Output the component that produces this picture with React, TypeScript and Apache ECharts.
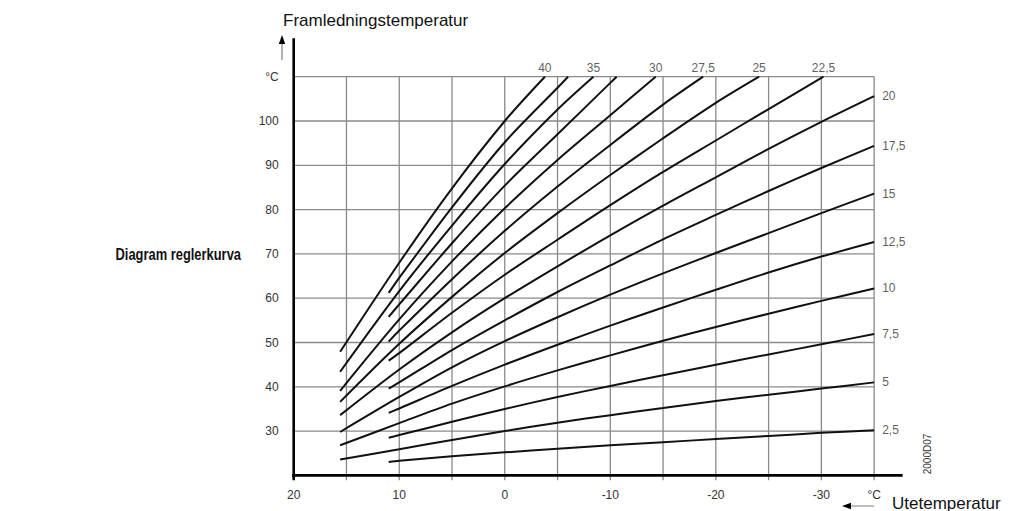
import React, { useEffect, useRef } from "react";
import * as echarts from "echarts";

const FONT = "'Liberation Sans', Arial, Helvetica, sans-serif";

// Outdoor temperature grid (x) and flow temperature grid (y)
const verticalGrid = [15, 10, 5, 0, -5, -10, -15, -20, -25, -30, -35];
const horizontalGrid = [30, 40, 50, 60, 70, 80, 90, 100, 110];
const xTickLabels = [20, 10, 0, -10, -20, -30];
const yTickLabels = [30, 40, 50, 60, 70, 80, 90, 100];

// Heating curves: [outdoor temp, flow temp]
const curve40 = [[15.6, 47.9], [10, 68.0], [5, 84.8], [0, 100], [-3.8, 110]];
const curve37_5 = [[11, 61.2], [10, 64.6], [5, 80.5], [0, 95.2], [-5, 107.5], [-6.0, 110]];
const curve35 = [[15.6, 43.4], [10, 61.6], [5, 76.4], [0, 90.3], [-5, 102.6], [-8.4, 110]];
const curve32_5 = [[11, 55.8], [10, 58.6], [5, 72.4], [0, 85.4], [-5, 97.0], [-10, 108.6], [-10.6, 110]];
const curve30 = [[15.6, 39.1], [10, 55.2], [5, 68.3], [0, 80.3], [-5, 91.2], [-10, 101.3], [-14.3, 110]];
const curve27_5 = [[11, 50.2], [10, 52.7], [5, 64.3], [0, 75.2], [-5, 85.2], [-10, 94.6], [-15, 103.7], [-18.8, 110]];
const curve25 = [[15.6, 36.6], [10, 49.7], [5, 60.3], [0, 70.2], [-5, 79.2], [-10, 87.8], [-15, 96.1], [-20, 104.1], [-24.1, 110]];
const curve22_5 = [[11, 45.9], [10, 47.6], [5, 56.7], [0, 65.3], [-5, 73.2], [-10, 81.0], [-15, 88.5], [-20, 95.6], [-25, 102.7], [-30.2, 110]];
const curve20 = [[15.6, 33.6], [10, 43.9], [5, 52.3], [0, 60.0], [-5, 67.2], [-10, 74.2], [-15, 80.9], [-20, 87.3], [-25, 93.7], [-30, 99.8], [-35, 105.6]];
const curve17_5 = [[11, 39.6], [10, 41.0], [5, 48.3], [0, 55.0], [-5, 61.4], [-10, 67.4], [-15, 73.3], [-20, 78.8], [-25, 84.2], [-30, 89.4], [-35, 94.4]];
const curve15 = [[15.6, 29.8], [10, 37.7], [5, 44.4], [0, 50.3], [-5, 55.7], [-10, 60.8], [-15, 65.6], [-20, 70.2], [-25, 74.7], [-30, 79.2], [-35, 83.6]];
const curve12_5 = [[11, 34.1], [10, 35.1], [5, 40.2], [0, 45.0], [-5, 49.5], [-10, 53.8], [-15, 57.9], [-20, 61.9], [-25, 65.8], [-30, 69.4], [-35, 72.7]];
const curve10 = [[15.6, 26.8], [10, 31.8], [5, 36.2], [0, 40.1], [-5, 43.7], [-10, 47.1], [-15, 50.4], [-20, 53.5], [-25, 56.5], [-30, 59.4], [-35, 62.2]];
const curve7_5 = [[11, 28.5], [10, 29.1], [5, 32.1], [0, 35.0], [-5, 37.7], [-10, 40.2], [-15, 42.6], [-20, 45.0], [-25, 47.3], [-30, 49.6], [-35, 51.9]];
const curve5 = [[15.6, 23.6], [10, 25.9], [5, 28.0], [0, 30.0], [-5, 31.9], [-10, 33.6], [-15, 35.2], [-20, 36.8], [-25, 38.2], [-30, 39.6], [-35, 41.0]];
const curve2_5 = [[11, 23.0], [10, 23.3], [5, 24.3], [0, 25.2], [-5, 26.0], [-10, 26.8], [-15, 27.5], [-20, 28.2], [-25, 28.9], [-30, 29.6], [-35, 30.2]];

const curves = [curve40, curve37_5, curve35, curve32_5, curve30, curve27_5, curve25, curve22_5,
  curve20, curve17_5, curve15, curve12_5, curve10, curve7_5, curve5, curve2_5];

// Curve labels
const topLabelCurves = [curve40, curve35, curve30, curve27_5, curve25, curve22_5];
const topLabelTexts = ["40", "35", "30", "27,5", "25", "22,5"];
const rightLabelCurves = [curve20, curve17_5, curve15, curve12_5, curve10, curve7_5, curve5, curve2_5];
const rightLabelTexts = ["20", "17,5", "15", "12,5", "10", "7,5", "5", "2,5"];

const GRID_COLOR = "#8a8a8a";
const TEXT_COLOR = "#333333";

function lineSeries(data: number[][], color: string, width: number, z: number, smooth = false) {
  return {
    type: "line",
    data,
    symbol: "none",
    silent: true,
    smooth: smooth ? 0.3 : false,
    lineStyle: { color, width, cap: "butt" },
    z,
    clip: false,
  };
}

function labelSeries(data: any[], position: string, distance: number) {
  return {
    type: "scatter",
    symbol: "circle",
    symbolSize: 0.1,
    itemStyle: { color: "transparent" },
    silent: true,
    z: 5,
    data,
    label: {
      show: true,
      position,
      distance,
      formatter: (p: any) => p.data[2],
      color: TEXT_COLOR,
      fontSize: 12,
      fontFamily: FONT,
    },
  };
}

function buildOption() {
  const series: any[] = [];
  verticalGrid.forEach((t) => series.push(lineSeries([[t, 18.9], [t, 110]], GRID_COLOR, 1.3, 1)));
  horizontalGrid.forEach((v) => series.push(lineSeries([[20.5, v], [-35, v]], GRID_COLOR, 1.3, 1)));
  // axes
  series.push(lineSeries([[20.5, 20], [-37.7, 20]], "#000", 2.6, 2));
  series.push(lineSeries([[20, 18.9], [20, 118.7]], "#000", 2.6, 2));
  curves.forEach((c) => series.push(lineSeries(c, "#111", 2, 3, true)));

  series.push(labelSeries(
    topLabelCurves.map((c, i) => [c[c.length - 1][0], c[c.length - 1][1], topLabelTexts[i]]), "top", 3));
  series.push(labelSeries(
    rightLabelCurves.map((c, i) => [c[c.length - 1][0], c[c.length - 1][1], rightLabelTexts[i]]), "right", 8));

  return {
    animation: false,
    backgroundColor: "#fff",
    grid: { left: 293.7, right: 85.1, top: 32.4, bottom: 35.6, containLabel: false },
    xAxis: {
      type: "value",
      min: -40,
      max: 20,
      interval: 5,
      inverse: true,
      axisLine: { show: false },
      axisTick: { show: false },
      splitLine: { show: false },
      axisLabel: {
        margin: 14,
        color: TEXT_COLOR,
        fontSize: 12,
        fontFamily: FONT,
        showMinLabel: true,
        showMaxLabel: true,
        formatter: (v: number) => (v === -35 ? "°C" : xTickLabels.includes(v) ? String(v) : ""),
      },
    },
    yAxis: {
      type: "value",
      min: 20,
      max: 120,
      interval: 10,
      axisLine: { show: false },
      axisTick: { show: false },
      splitLine: { show: false },
      axisLabel: {
        margin: 15,
        color: TEXT_COLOR,
        fontSize: 12,
        fontFamily: FONT,
        formatter: (v: number) => (v === 110 ? "°C" : yTickLabels.includes(v) ? String(v) : ""),
      },
    },
    graphic: [
      {
        type: "text",
        x: 283,
        y: 20,
        style: { text: "Framledningstemperatur", fontSize: 17, fontFamily: FONT, fill: "#111", verticalAlign: "middle" },
      },
      {
        type: "text",
        x: 892,
        y: 503,
        style: { text: "Utetemperatur", fontSize: 17, fontFamily: FONT, fill: "#111", verticalAlign: "middle" },
      },
      {
        type: "text",
        x: 241,
        y: 254,
        scaleX: 0.76,
        style: {
          text: "Diagram reglerkurva",
          fontSize: 17,
          fontWeight: "bold",
          fontFamily: FONT,
          fill: "#111",
          align: "right",
          verticalAlign: "middle",
        },
      },
      {
        type: "text",
        x: 927,
        y: 454,
        rotation: Math.PI / 2,
        style: {
          text: "2000D07",
          fontSize: 10,
          fontFamily: FONT,
          fill: TEXT_COLOR,
          align: "center",
          verticalAlign: "middle",
        },
      },
      {
        type: "polygon",
        shape: { points: [[282, 35], [278.8, 44], [285.2, 44]] },
        style: { fill: "#000" },
      },
      {
        type: "line",
        shape: { x1: 282, y1: 44, x2: 282, y2: 60 },
        style: { stroke: "#999", lineWidth: 1.5 },
      },
      {
        type: "polygon",
        shape: { points: [[842, 506], [851, 502.8], [851, 509.2]] },
        style: { fill: "#000" },
      },
      {
        type: "line",
        shape: { x1: 851, y1: 506, x2: 874, y2: 506 },
        style: { stroke: "#aaa", lineWidth: 1.5 },
      },
    ],
    series,
  };
}

export default function App() {
  const ref = useRef<HTMLDivElement>(null);
  useEffect(() => {
    document.body.style.margin = "0";
    const chart = echarts.init(ref.current as HTMLDivElement, undefined, { renderer: "svg", width: 1012, height: 511 });
    chart.setOption(buildOption() as any);
    return () => chart.dispose();
  }, []);
  return (
    <div
      ref={ref}
      style={{ position: "absolute", left: 0, top: 0, width: 1012, height: 511, background: "#fff" }}
    />
  );
}
